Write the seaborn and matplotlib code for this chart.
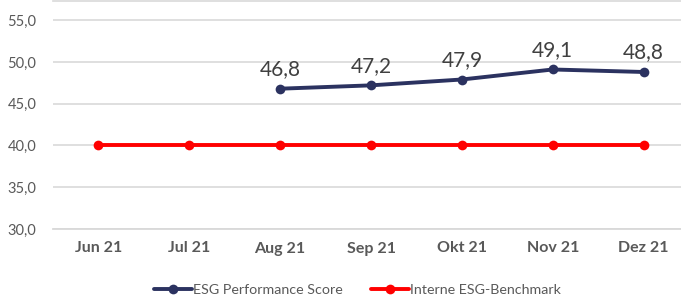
import numpy as np
import pandas as pd
import seaborn as sns
import matplotlib
matplotlib.use('Agg')
import matplotlib.pyplot as plt

monate = ["Jun 21", "Jul 21", "Aug 21", "Sep 21", "Okt 21", "Nov 21", "Dez 21"]
esg_score = [np.nan, np.nan, 46.8, 47.2, 47.9, 49.1, 48.8]
benchmark = [40.0, 40.0, 40.0, 40.0, 40.0, 40.0, 40.0]
y_ticks = [30, 35, 40, 45, 50, 55]

df = pd.DataFrame({"monat": monate, "ESG Performance Score": esg_score,
                   "Interne ESG-Benchmark": benchmark})
df["pos"] = range(len(monate))

sns.set_style("white")
plt.rcParams['font.family'] = ['Lato', 'DejaVu Sans']

fig = plt.figure(figsize=(6.81, 2.95), dpi=100)
ax = fig.add_axes([53/681, 66/295, 636/681, 228/295])

navy = "#2B3260"
rot = "#FF0000"
sns.lineplot(data=df, x="pos", y="ESG Performance Score", ax=ax, color=navy,
             linewidth=2.8, marker="o", markersize=7, markeredgewidth=0,
             label="ESG Performance Score")
sns.lineplot(data=df, x="pos", y="Interne ESG-Benchmark", ax=ax, color=rot,
             linewidth=2.8, marker="o", markersize=7, markeredgewidth=0,
             label="Interne ESG-Benchmark")

for i, v in enumerate(esg_score):
    if not np.isnan(v):
        ax.annotate(f"{v:.1f}".replace(".", ","), (i, v), xytext=(0, 7),
                    textcoords="offset points", ha="center", va="bottom",
                    fontsize=15, color="#404040")

ax.set_xlim(-0.5, len(monate) - 0.5)
ax.set_ylim(30, 57.3)
ax.set_yticks(y_ticks)
ax.set_yticklabels([f"{t:.1f}".replace(".", ",") for t in y_ticks],
                   fontsize=10.5, color="#595959")
ax.set_xticks(range(len(monate)))
ax.set_xticklabels(monate, fontsize=11.5, fontweight="bold", color="#595959")
ax.set_xticks(np.arange(-0.5, len(monate), 1), minor=True)
ax.tick_params(axis="x", which="major", length=0, pad=9)
ax.tick_params(axis="x", which="minor", length=5, color="#D9D9D9", width=1.3)
ax.tick_params(axis="y", length=0, pad=12)
ax.grid(axis="y", color="#D9D9D9", linewidth=1.2)
ax.set_axisbelow(True)
for s in ["left", "right"]:
    ax.spines[s].set_visible(False)
ax.spines["bottom"].set_color("#D9D9D9")
ax.spines["bottom"].set_linewidth(1.3)
ax.spines["top"].set_color("#D9D9D9")
ax.spines["top"].set_linewidth(1.2)
ax.set_xlabel("")
ax.set_ylabel("")

ax.legend(loc="lower center", bbox_to_anchor=(0.5 * 681 / 636 - 53 / 636 + 0.027, -0.35),
          ncol=2, frameon=False, fontsize=10.3, handlelength=2.6,
          columnspacing=2.0, handletextpad=0.1, labelcolor="#595959")

fig.savefig("out.png", dpi=100)
